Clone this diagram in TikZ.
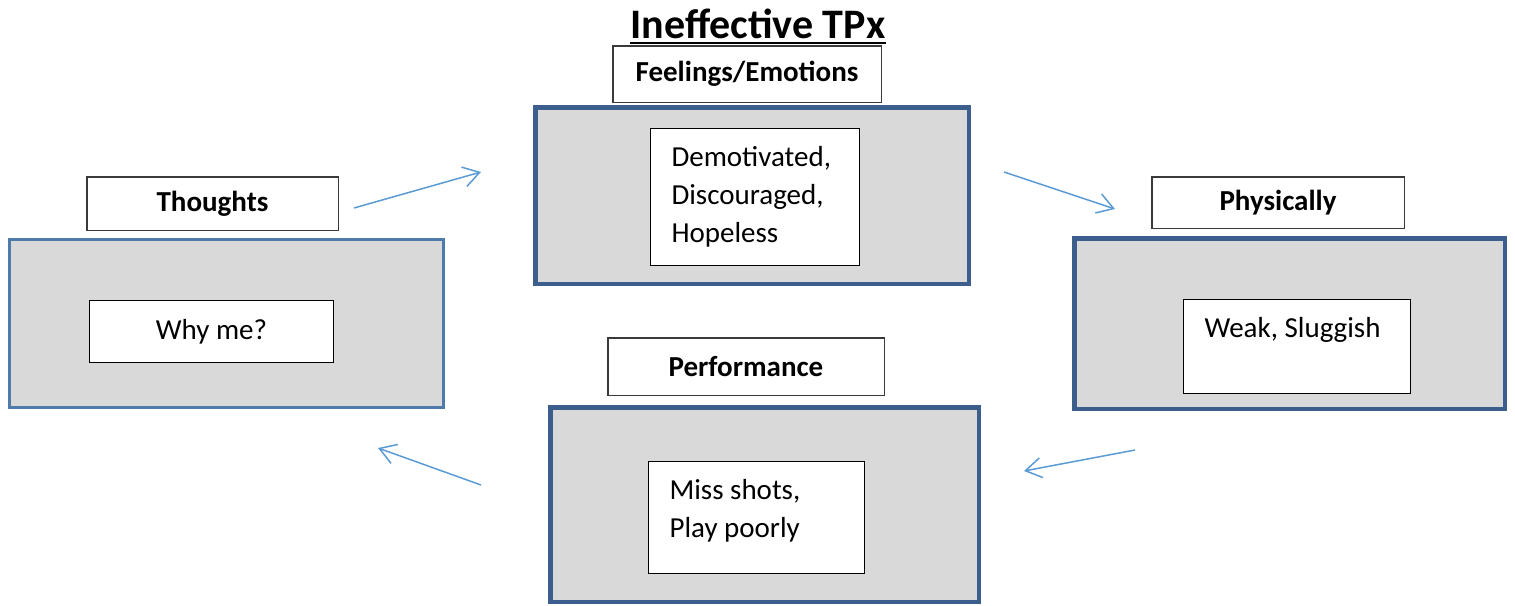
\documentclass[tikz,border=0pt]{standalone}
\usepackage{fontspec}
\setmainfont{Carlito}
\usetikzlibrary{arrows.meta,positioning}
\definecolor{FrameBlue}{HTML}{3B5E8C}
\definecolor{LightFrame}{HTML}{4F7BAA}
\definecolor{PanelGray}{HTML}{D9D9D9}
\definecolor{ArrowBlue}{HTML}{5B9BD5}
\definecolor{EdgeGray}{HTML}{3A3A3A}
\tikzset{
  panel/.style={draw=FrameBlue,line width=4.5pt,fill=PanelGray,inner sep=0pt},
  tag/.style={draw=EdgeGray,line width=1.5pt,fill=white,inner sep=0pt,
              font=\fontsize{29}{35}\selectfont\bfseries},
  entry/.style={draw=black,line width=1.3pt,fill=white,inner ysep=0pt,inner xsep=21pt,
                align=flush left,font=\fontsize{29}{38}\selectfont},
  flow/.style={-{Straight Barb[length=16pt,width=20pt]},line width=1.5pt,draw=ArrowBlue}
}
\begin{document}
\begin{tikzpicture}[x=1pt,y=-1pt]
  \useasboundingbox (0,0) rectangle (1515,605);

  \node[font=\fontsize{42}{50}\selectfont\bfseries,inner sep=0pt,anchor=base] (title) at (758,38) {Ineffective TPx};
  \draw[line width=2.5pt] ([yshift=-5pt]title.base west) -- ([yshift=-5pt]title.base east);

  \node[panel,minimum width=433.5,minimum height=176.5] (feelbox) at (752,195.5) {};
  \node[panel,draw=LightFrame,line width=3pt,minimum width=434,minimum height=168] (thinkbox) at (226.5,323.5) {};
  \node[panel,minimum width=430.5,minimum height=170.5] (bodybox) at (1289.5,323.5) {};
  \node[panel,minimum width=428.5,minimum height=194.5] (playbox) at (764.5,504.5) {};

  \node[tag,above=2pt of feelbox,xshift=-5pt,minimum width=268.5,minimum height=56.5] (feel) {Feelings/Emotions};
  \node[tag,above=7pt of thinkbox,xshift=-14pt,minimum width=251.5,minimum height=53.5] (think) {Thoughts};
  \node[tag,above=7pt of bodybox,xshift=-11.5pt,minimum width=252.5,minimum height=51.5] (body) {Physically};
  \node[tag,above=9pt of playbox,xshift=-18.5pt,minimum width=276.5,minimum height=57.5] (play) {Performance};

  \node[entry,text width=167,minimum height=137] (feeltext) at (755,197) {Demotivated,\\Discouraged,\\Hopeless};
  \node[entry,align=center,minimum width=244,minimum height=62] (thinktext) at (211.5,331.5) {Why me?};
  \node[entry,text width=185,minimum height=94] (bodytext) at (1297,346.5) {Weak, Sluggish\\ \mbox{}};
  \node[entry,text width=174,minimum height=112,text depth=56pt] (playtext) at (756.5,517.5) {Miss shots,\\Play poorly};

  \coordinate (think-out) at (354,208);
  \coordinate (feel-in) at (481,172);
  \coordinate (feel-out) at (1004,172);
  \coordinate (body-in) at (1115,209);
  \coordinate (body-out) at (1135,450);
  \coordinate (play-in) at (1024,471);
  \coordinate (play-out) at (481,485);
  \coordinate (think-in) at (378,448);

  \draw[flow] (think-out) -- (feel-in);
  \draw[flow] (feel-out) -- (body-in);
  \draw[flow] (body-out) -- (play-in);
  \draw[flow] (play-out) -- (think-in);
\end{tikzpicture}
\end{document}
